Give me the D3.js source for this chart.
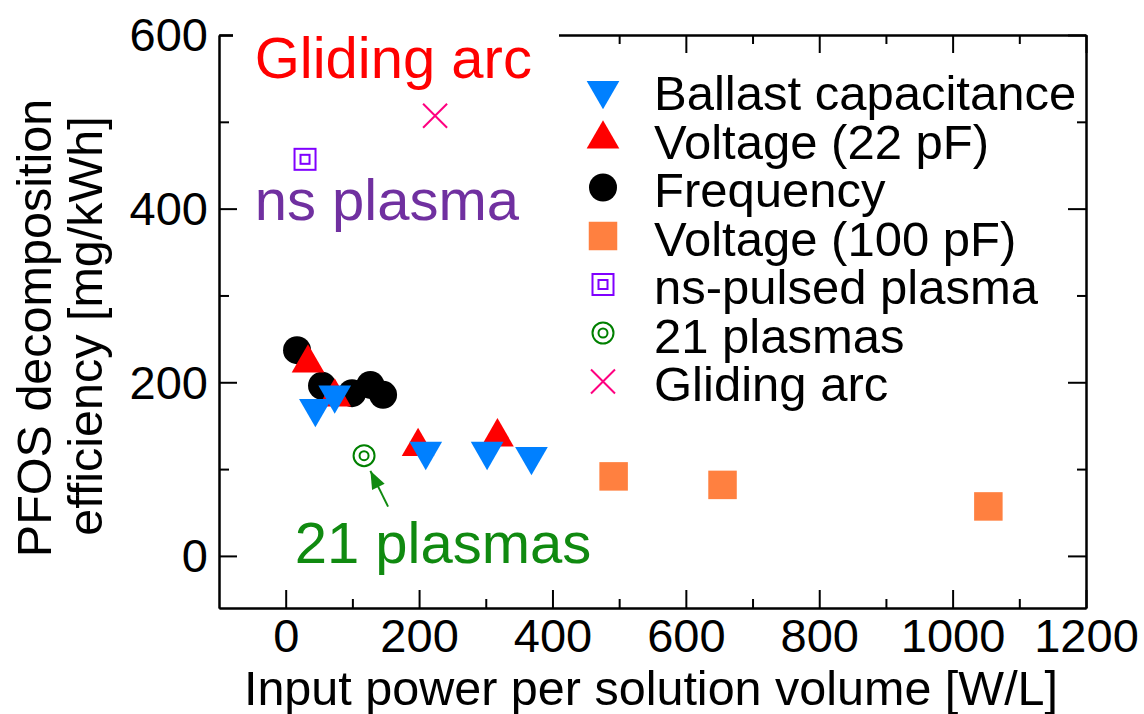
<!DOCTYPE html>
<html>
<head>
<meta charset="utf-8">
<script src="https://cdn.jsdelivr.net/npm/d3@7/dist/d3.min.js"></script>
<style>
  body { margin: 0; background: #fff; }
  text { font-family: "Liberation Sans", Arial, sans-serif; }
</style>
</head>
<body>
<svg id="chart" width="1144" height="714"></svg>
<script>
// input power [W/L] and PFOS decomposition efficiency [mg/kWh], per series
let ballastX = [44.5, 73.5, 210, 302, 368.5];
let ballastY = [170, 185.5, 120.5, 120.5, 114.7];
let volt22X = [33.5, 73.5, 198.5, 317.5];
let volt22Y = [222, 183, 126, 137];
let freqX = [17, 54.5, 99.5, 127, 146];
let freqY = [237, 196, 187.5, 197, 185.5];
let volt100X = [491.7, 655, 1053.6];
let volt100Y = [91.6, 81.8, 57];
let nsPulsedX = [29];
let nsPulsedY = [456.8];
let plasmas21X = [117.5];
let plasmas21Y = [115.5];
let glidingX = [224];
let glidingY = [507];

let legendLabels = ["Ballast capacitance", "Voltage (22 pF)", "Frequency", "Voltage (100 pF)",
                    "ns-pulsed plasma", "21 plasmas", "Gliding arc"];

let xMajor = [0, 200, 400, 600, 800, 1000, 1200];
let xMinor = [100, 300, 500, 700, 900, 1100];
let yMajor = [0, 200, 400, 600];
let yMinor = [100, 300, 500];

// in-plot notes (data coords)
let noteText = ["Gliding arc", "ns plasma", "21 plasmas"];
let noteX = [-46.5, -46.5, 13.5];
let noteY = [551, 387, -8.4];
let arrowFrom = [153.5, 56.8];
let arrowTo = [127, 98];

let svg = d3.select("#chart");

let x = d3.scaleLinear().domain([-100, 1200]).range([219, 1086]);
let y = d3.scaleLinear().domain([-60, 600]).range([608, 35]);

function styleAxis(g) {
  g.selectAll("path.domain").attr("stroke", "#000").attr("stroke-width", 2);
  g.selectAll(".tick line").attr("stroke", "#000").attr("stroke-width", 2);
  g.selectAll("text").attr("fill", "#000").attr("font-size", 47)
   .attr("font-family", "'Liberation Sans', Arial, sans-serif");
}

// bottom
svg.append("g").attr("transform", "translate(0,608)")
  .call(d3.axisBottom(x).tickValues(xMajor).tickSize(-18).tickSizeOuter(0).tickPadding(11).tickFormat(d3.format("d")))
  .call(styleAxis);
svg.append("g").attr("transform", "translate(0,608)")
  .call(d3.axisBottom(x).tickValues(xMinor).tickSize(-9).tickSizeOuter(0).tickFormat(""))
  .call(styleAxis);
// top
svg.append("g").attr("transform", "translate(0,35)")
  .call(d3.axisTop(x).tickValues(xMajor).tickSize(-18).tickSizeOuter(0).tickFormat(""))
  .call(styleAxis);
svg.append("g").attr("transform", "translate(0,35)")
  .call(d3.axisTop(x).tickValues(xMinor).tickSize(-9).tickSizeOuter(0).tickFormat(""))
  .call(styleAxis);
// left
svg.append("g").attr("transform", "translate(219,0)")
  .call(d3.axisLeft(y).tickValues(yMajor).tickSize(-18).tickSizeOuter(0).tickPadding(11).tickFormat(d3.format("d")))
  .call(styleAxis)
  .call(g => g.selectAll("text").attr("dy", "0.34em"));
svg.append("g").attr("transform", "translate(219,0)")
  .call(d3.axisLeft(y).tickValues(yMinor).tickSize(-10).tickSizeOuter(0).tickFormat(""))
  .call(styleAxis);
// right
svg.append("g").attr("transform", "translate(1086,0)")
  .call(d3.axisRight(y).tickValues(yMajor).tickSize(-18).tickSizeOuter(0).tickFormat(""))
  .call(styleAxis);
svg.append("g").attr("transform", "translate(1086,0)")
  .call(d3.axisRight(y).tickValues(yMinor).tickSize(-9).tickSizeOuter(0).tickFormat(""))
  .call(styleAxis);

// axis titles
svg.append("text").attr("x", 651).attr("y", 705).attr("text-anchor", "middle")
  .attr("font-size", 48.5).text("Input power per solution volume [W/L]");
svg.append("text").attr("transform", "translate(51,328) rotate(-90)").attr("text-anchor", "middle")
  .attr("font-size", 48.5).text("PFOS decomposition");
svg.append("text").attr("transform", "translate(102,326) rotate(-90)").attr("text-anchor", "middle")
  .attr("font-size", 48.5).text("efficiency [mg/kWh]");

// white box behind the "Gliding arc" note covers the top frame
svg.append("rect").attr("x", 233).attr("y", 22).attr("width", 326).attr("height", 36).attr("fill", "#fff");

let noteColor = ["#ff0000", "#7030a0", "#108a10"];
svg.selectAll("text.note").data(noteText).enter().append("text")
  .attr("class", "note")
  .attr("x", (d, i) => x(noteX[i]))
  .attr("y", (d, i) => y(noteY[i]))
  .attr("font-size", 58)
  .attr("fill", (d, i) => noteColor[i])
  .text(d => d);

// arrow to the 21 plasmas point
svg.append("line")
  .attr("x1", x(arrowFrom[0])).attr("y1", y(arrowFrom[1]))
  .attr("x2", x(arrowTo[0])).attr("y2", y(arrowTo[1]))
  .attr("stroke", "#108a10").attr("stroke-width", 2);
svg.append("path")
  .attr("d", () => {
    let x1 = x(arrowFrom[0]), y1 = y(arrowFrom[1]), x2 = x(arrowTo[0]), y2 = y(arrowTo[1]);
    let a = Math.atan2(y2 - y1, x2 - x1), L = 18, W = 7;
    let bx = x2 - L * Math.cos(a), by = y2 - L * Math.sin(a);
    return "M" + x2 + "," + y2 + "L" + (bx + W * Math.sin(a)) + "," + (by - W * Math.cos(a)) +
           "L" + (bx - W * Math.sin(a)) + "," + (by + W * Math.cos(a)) + "Z";
  })
  .attr("fill", "#108a10");

// marker drawing
function drawMarker(g, kind) {
  if (kind == "down") {
    g.append("path").attr("d", d3.symbol(d3.symbolTriangle, 462)()).attr("transform", "rotate(180)").attr("fill", "#0080ff");
  } else if (kind == "up") {
    g.append("path").attr("d", d3.symbol(d3.symbolTriangle, 462)()).attr("fill", "#ff0000");
  } else if (kind == "circle") {
    g.append("circle").attr("r", 14).attr("fill", "#000");
  } else if (kind == "square") {
    g.append("rect").attr("x", -14.25).attr("y", -14.25).attr("width", 28.5).attr("height", 28.5).attr("fill", "#ff8040");
  } else if (kind == "dsquare") {
    g.append("rect").attr("x", -10.5).attr("y", -10.5).attr("width", 21).attr("height", 21)
      .attr("fill", "none").attr("stroke", "#8000ff").attr("stroke-width", 2);
    g.append("rect").attr("x", -4.5).attr("y", -4.5).attr("width", 9).attr("height", 9)
      .attr("fill", "none").attr("stroke", "#8000ff").attr("stroke-width", 2);
  } else if (kind == "dcircle") {
    g.append("circle").attr("r", 10.5).attr("fill", "none").attr("stroke", "#008000").attr("stroke-width", 2);
    g.append("circle").attr("r", 4.5).attr("fill", "none").attr("stroke", "#008000").attr("stroke-width", 2);
  } else if (kind == "cross") {
    g.append("path").attr("d", "M-12,-12L12,12M-12,12L12,-12").attr("stroke", "#ff0080").attr("stroke-width", 2);
  }
}

let series = [
  {xs: freqX, ys: freqY, kind: "circle"},
  {xs: volt22X, ys: volt22Y, kind: "up"},
  {xs: ballastX, ys: ballastY, kind: "down"},
  {xs: volt100X, ys: volt100Y, kind: "square"},
  {xs: nsPulsedX, ys: nsPulsedY, kind: "dsquare"},
  {xs: plasmas21X, ys: plasmas21Y, kind: "dcircle"},
  {xs: glidingX, ys: glidingY, kind: "cross"}
];

series.forEach(function(s) {
  s.xs.forEach(function(v, i) {
    let g = svg.append("g").attr("transform", "translate(" + x(v) + "," + y(s.ys[i]) + ")");
    drawMarker(g, s.kind);
  });
});

// legend
let legendKinds = ["down", "up", "circle", "square", "dsquare", "dcircle", "cross"];
legendLabels.forEach(function(lab, i) {
  let base = 110 + i * 48.5;
  let g = svg.append("g").attr("transform", "translate(603," + (base - 19.5) + ")");
  drawMarker(g, legendKinds[i]);
  svg.append("text").attr("x", 654).attr("y", base).attr("font-size", 49).attr("fill", "#000").text(lab);
});
</script>
</body>
</html>
